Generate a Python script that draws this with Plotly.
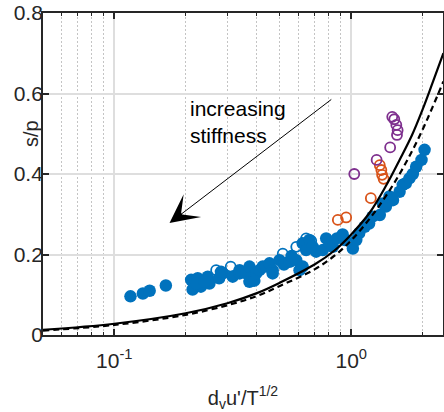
import numpy as np
import plotly.graph_objects as go

# ---- data ----
blue_x = [0.117, 0.132, 0.141, 0.165, 0.211, 0.214, 0.225, 0.232, 0.248, 0.252, 0.222, 0.240,
          0.277, 0.287, 0.282, 0.316, 0.338, 0.338, 0.36, 0.372, 0.372, 0.384, 0.39, 0.397, 0.41,
          0.423, 0.437, 0.452, 0.466, 0.466, 0.498, 0.52, 0.549, 0.56, 0.586, 0.605, 0.624, 0.624,
          0.645, 0.666, 0.688, 0.711, 0.759, 0.784, 0.81, 0.836, 0.87, 0.92, 0.94,
          1.016, 1.05, 1.08, 1.14, 1.19, 1.23, 1.32, 1.36, 1.40, 1.45, 1.50, 1.60, 1.65, 1.70,
          1.76, 1.82, 1.88, 1.98, 2.04]
blue_y = [0.096, 0.103, 0.110, 0.123, 0.137, 0.113, 0.141, 0.120, 0.145, 0.128, 0.128, 0.133,
          0.141, 0.153, 0.157, 0.145, 0.153, 0.161, 0.153, 0.170, 0.132, 0.145, 0.135, 0.153, 0.161,
          0.170, 0.170, 0.178, 0.161, 0.153, 0.186, 0.175, 0.182, 0.196, 0.186, 0.161, 0.170, 0.228,
          0.211, 0.236, 0.219, 0.207, 0.211, 0.240, 0.228, 0.219, 0.240, 0.250, 0.236,
          0.215, 0.236, 0.253, 0.269, 0.277, 0.294, 0.298, 0.327, 0.319, 0.344, 0.335, 0.356, 0.373, 0.377,
          0.389, 0.400, 0.418, 0.435, 0.460]

blue_open_x = [0.269, 0.31, 0.514, 0.586, 0.645, 0.678]
blue_open_y = [0.161, 0.170, 0.202, 0.219, 0.240, 0.234]

orange_x = [0.878, 0.952, 1.21, 1.32, 1.34, 1.35, 1.37]
orange_y = [0.286, 0.292, 0.340, 0.422, 0.410, 0.398, 0.388]

purple_x = [1.03, 1.28, 1.46, 1.49, 1.52, 1.55, 1.57, 1.56]
purple_y = [0.400, 0.435, 0.466, 0.542, 0.536, 0.522, 0.509, 0.497]

solid_x = [0.05, 0.1, 0.2, 0.3, 0.4, 0.5, 0.7, 0.85, 1.0, 1.2, 1.4, 1.6, 1.8, 2.0, 2.2, 2.45]
solid_y = [0.013, 0.028, 0.054, 0.079, 0.104, 0.130, 0.175, 0.210, 0.250, 0.305, 0.370, 0.435,
           0.495, 0.560, 0.625, 0.700]

dash_x = [0.05, 0.1, 0.2, 0.3, 0.4, 0.5, 0.7, 0.85, 1.0, 1.2, 1.4, 1.6, 1.8, 2.0, 2.2, 2.45]
dash_y = [0.011, 0.025, 0.050, 0.074, 0.097, 0.122, 0.163, 0.197, 0.235, 0.290, 0.345, 0.400,
          0.455, 0.510, 0.565, 0.630]

x_tickvals = [0.1, 1]
x_ticktext = ['10<sup>-1</sup>', '10<sup>0</sup>']
x_minor = [0.06, 0.07, 0.08, 0.09, 0.2, 0.3, 0.4, 0.5, 0.6, 0.7, 0.8, 0.9, 2]
y_tickvals = [0, 0.2, 0.4, 0.6, 0.8]
y_ticktext = ['0', '0.2', '0.4', '0.6', '0.8']

BLUE = '#0072BD'
ORANGE = '#D95319'
PURPLE = '#7E2F8E'
FONT = 'Liberation Sans, Arial, Helvetica, sans-serif'
TXT = '#262626'

fig = go.Figure()
fig.add_trace(go.Scatter(x=blue_open_x, y=blue_open_y, mode='markers',
                         marker=dict(symbol='circle-open', size=10, color=BLUE, line=dict(width=1.8))))
fig.add_trace(go.Scatter(x=blue_x, y=blue_y, mode='markers',
                         marker=dict(symbol='circle', size=12.5, color=BLUE, line=dict(width=0))))
fig.add_trace(go.Scatter(x=orange_x, y=orange_y, mode='markers',
                         marker=dict(symbol='circle-open', size=10, color=ORANGE, line=dict(width=1.8))))
fig.add_trace(go.Scatter(x=purple_x, y=purple_y, mode='markers',
                         marker=dict(symbol='circle-open', size=10, color=PURPLE, line=dict(width=1.8))))
fig.add_trace(go.Scatter(x=solid_x, y=solid_y, mode='lines', line_shape='spline',
                         line=dict(color='black', width=2.2)))
fig.add_trace(go.Scatter(x=dash_x, y=dash_y, mode='lines', line_shape='spline',
                         line=dict(color='black', width=2.2, dash='6px,4px')))

fig.add_annotation(x=np.log10(0.171), y=0.278, ax=np.log10(0.836), ay=0.588,
                   xref='x', yref='y', axref='x', ayref='y', text='', showarrow=True,
                   arrowhead=3, arrowsize=4.8, arrowwidth=1, arrowcolor='black')
fig.add_annotation(x=np.log10(0.204), y=0.529, xref='x', yref='y', xanchor='left', yanchor='middle',
                   align='left', text='increasing<br>stiffness', showarrow=False,
                   font=dict(family=FONT, size=21, color='black'))
fig.add_annotation(x=-0.0625, y=0.624, xref='paper', yref='paper', text='s/p', showarrow=False,
                   textangle=-90, font=dict(family=FONT, size=20, color=TXT))

fig.update_layout(
    width=444, height=412, showlegend=False,
    margin=dict(l=43, r=1, t=13, b=77),
    plot_bgcolor='white', paper_bgcolor='white',
    font=dict(family=FONT, size=21, color=TXT),
    xaxis=dict(type='log', range=[np.log10(0.05), np.log10(2.44)], automargin=False,
               tickmode='array', tickvals=x_tickvals, ticktext=x_ticktext,
               ticks='inside', ticklen=6, tickwidth=1.5, tickcolor=TXT,
               ticklabelstandoff=6, ticklabeloverflow='allow',
               showline=True, linecolor=TXT, linewidth=1.8, mirror='ticks',
               showgrid=True, gridcolor='#dedede', gridwidth=1.6, zeroline=False,
               minor=dict(tickmode='array', tickvals=x_minor, ticks='inside', ticklen=3.5,
                          tickcolor=TXT, tickwidth=1, showgrid=True, griddash='2px,2px',
                          gridcolor='#c4c4c4', gridwidth=1),
               title=dict(text="d<sub>v</sub>u'/T<sup>1/2</sup>", font=dict(size=20), standoff=30)),
    yaxis=dict(range=[0, 0.8], tickmode='array', tickvals=y_tickvals, ticktext=y_ticktext,
               automargin=False, ticklabelstandoff=-6, ticklabeloverflow='allow',
               ticks='inside', ticklen=6, tickwidth=1.5, tickcolor=TXT,
               showline=True, linecolor=TXT, linewidth=1.8, mirror='ticks',
               showgrid=True, gridcolor='#dedede', gridwidth=1.6, zeroline=False),
)

# the page body has a default 8px margin; remove it so the figure sits at the window's corner
fig.write_html('out.html', config={'displayModeBar': False},
               post_script="document.body.style.margin='0px';")
